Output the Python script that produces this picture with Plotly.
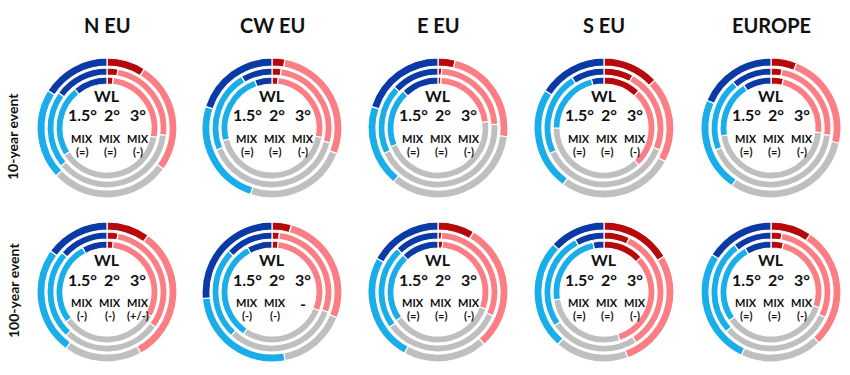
import plotly.graph_objects as go

# ---------------- data ----------------
regions = ["N EU", "CW EU", "E EU", "S EU", "EUROPE"]
row_labels = ["10-year event", "100-year event"]
categories = ["Strong increase", "Increase", "No change", "Decrease", "Strong decrease"]
colors = ["#b5090c", "#fb7e84", "#bfbfbf", "#19aee9", "#0b3aa6"]
wl_labels = ["1.5°", "2°", "3°"]

# share (%) of each category, clockwise from 12 o'clock; one list per region
# 10-year event
ev10_wl15 = [[2, 26, 38, 23, 11], [2, 26, 43, 23.5, 5.5], [1, 22, 46, 19, 12],
             [12, 26, 37, 21, 4], [4, 22.5, 46, 18.5, 9]]
ev10_wl2 = [[3, 24, 37, 21, 15], [2.5, 26.5, 40, 22.5, 8.5], [1, 23, 44, 19, 13],
            [8, 23, 37, 23, 9], [3, 24, 42, 20, 11]]
ev10_wl3 = [[9, 26, 28, 21, 16], [3, 28, 24, 25, 20], [4, 23, 34, 19, 20],
            [13, 20, 27, 24, 16], [6, 22.5, 31, 22, 18.5]]
# 100-year event
ev100_wl15 = [[2, 31, 32, 27, 8], [2, 29, 28.5, 32.5, 8], [1.5, 29, 35, 22.5, 12],
              [13, 32, 27.5, 24, 3.5], [4, 26, 35.5, 26, 8.5]]
ev100_wl2 = [[3, 32, 27, 24.5, 13.5], [2, 28.5, 31.5, 25, 13], [1, 30.5, 33.5, 23, 12],
             [7, 34, 24.5, 26.5, 8], [3, 29, 31.5, 26, 10.5]]
ev100_wl3 = [[10, 32, 18, 25, 15], [4.5, 26.5, 16, 26.5, 26.5], [8.5, 30, 19.5, 25, 17],
             [16.5, 28, 17, 25.5, 13], [9.5, 28.5, 19, 27, 16]]

# MIX labels per WL (1.5, 2, 3)
mix10 = [["MIX", "MIX", "MIX"]] * 5
sign10 = [["(=)", "(=)", "(-)"]] * 5
mix100 = [["MIX", "MIX", "MIX"], ["MIX", "MIX", "-"], ["MIX", "MIX", "MIX"],
          ["MIX", "MIX", "MIX"], ["MIX", "MIX", "MIX"]]
sign100 = [["(-)", "(-)", "(+/-)"], ["(-)", "(-)", ""], ["(=)", "(=)", "(-)"],
           ["(=)", "(=)", "(-)"], ["(=)", "(=)", "(-)"]]

# ---------------- layout geometry (pixels) ----------------
W, H = 850, 375
col_x = [107, 272, 438, 604, 771]
row_y = [128, 292]
# ring (outer radius, inner radius): outer ring = 3°, middle = 2°, inner = 1.5°
rings = [(70, 62), (60, 53), (51, 44)]
FONT = "Lato, 'Open Sans', Arial, sans-serif"

fig = go.Figure()

rows_data = [
    [ev10_wl3, ev10_wl2, ev10_wl15],
    [ev100_wl3, ev100_wl2, ev100_wl15],
]

for ri, cy in enumerate(row_y):
    for ci, cx in enumerate(col_x):
        for k, (ro, rin) in enumerate(rings):
            vals = rows_data[ri][k][ci]
            fig.add_trace(go.Pie(
                values=vals, labels=categories,
                marker=dict(colors=colors, line=dict(color="white", width=1.2)),
                sort=False, direction="clockwise", rotation=0,
                hole=rin / ro, textinfo="none", showlegend=False,
                domain=dict(x=[(cx - ro) / W, (cx + ro) / W],
                            y=[1 - (cy + ro) / H, 1 - (cy - ro) / H]),
            ))

annotations = []


def ann(x, y, text, size, **kw):
    d = dict(x=x / W, y=1 - y / H, xref="paper", yref="paper", text=text,
             showarrow=False, xanchor="center", yanchor="middle", borderpad=0,
             font=dict(family=FONT, size=size, color="#111111"))
    d.update(kw)
    annotations.append(d)


for ci, cx in enumerate(col_x):
    ann(cx, 25, "<b>%s</b>" % regions[ci], 20)

mixes = [mix10, mix100]
signs = [sign10, sign100]
num_dx = [-25, 5, 31]
mix_dx = [-25, 3, 31]
for ri, cy in enumerate(row_y):
    for ci, cx in enumerate(col_x):
        ann(cx, cy - 33, "<b>WL</b>", 16)
        for j in range(3):
            ann(cx + num_dx[j], cy - 13, "<b>%s</b>" % wl_labels[j], 16)
        for j, dx in enumerate(mix_dx):
            m = mixes[ri][ci][j]
            s = signs[ri][ci][j]
            if m == "-":
                ann(cx + dx, cy + 11, "<b>-</b>", 16)
            else:
                ann(cx + dx, cy + 10, "<b>%s</b>" % m, 11)
                if s:
                    ann(cx + dx, cy + 23.5, "<b>%s</b>" % s, 11)

label_y = [137, 291]
for ri, ly in enumerate(label_y):
    ann(13, ly, "<b>%s</b>" % row_labels[ri], 14, textangle=-90)

fig.update_layout(
    width=W, height=H, autosize=False,
    margin=dict(l=0, r=0, t=0, b=0),
    paper_bgcolor="white", plot_bgcolor="white",
    annotations=annotations,
)

fig.write_html("out.html", config={"displayModeBar": False},
               post_script="document.body.style.margin='0px';")
